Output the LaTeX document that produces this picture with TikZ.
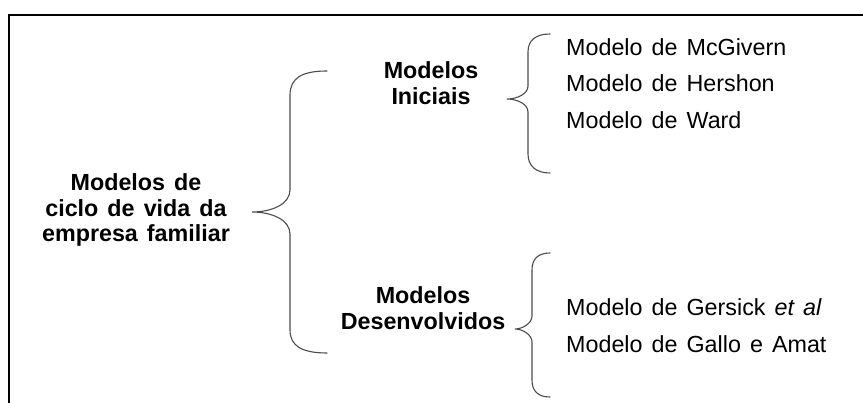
\documentclass[tikz,border=0pt]{standalone}
\usepackage{fontspec}
\setmainfont[WordSpace=1.4]{Liberation Sans}
\begin{document}
\begin{tikzpicture}[x=1pt,y=-1pt,
  frameline/.style={line width=2pt,black},
  bracepath/.style={line width=1.1pt,black!70,line cap=round},
  headtext/.style={font=\bfseries\fontsize{23.3}{25.4}\selectfont,align=center,inner sep=0pt},
  itemtext/.style={font=\fontsize{23.3}{28}\selectfont,anchor=base west,inner sep=0pt}]
\useasboundingbox (0,0) rectangle (863,403);

% open frame: top and left edges
\coordinate (ftl) at (9,15);
\coordinate (ftr) at (863,15);
\coordinate (fbl) at (9,403);
\draw[frameline] (ftr) -- (ftl) -- (fbl);

% headings
\node[headtext] (root) at (136,210.3) {Modelos de\\ciclo de vida da\\empresa familiar};
\node[headtext] (ini) at (431,83.2) {Modelos\\Iniciais};
\node[headtext] (dev) at (423,308) {Modelos\\Desenvolvidos};

% list entries
\node[itemtext] (mcg) at (566,56) {Modelo de McGivern};
\node[itemtext] (her) at (566,92) {Modelo de Hershon};
\node[itemtext] (war) at (566,129) {Modelo de Ward};
\node[itemtext] (ger) at (566,316) {Modelo de Gersick \textit{et al}};
\node[itemtext] (gal) at (566,353) {Modelo de Gallo e Amat};

% main brace
\coordinate (b1tip) at (252,212);
\draw[bracepath] (327,71) .. controls (302,71) and (290,78) .. (290,95)
  -- (290,190) .. controls (290,204) and (272,212) .. (b1tip)
  .. controls (272,212) and (290,220) .. (290,234)
  -- (290,330) .. controls (290,346) and (302,353) .. (327,353);

% brace for the early models
\coordinate (b2tip) at (507,99);
\draw[bracepath] (550,34) .. controls (536,34) and (528,40) .. (528,52)
  -- (528,86) .. controls (528,94) and (517,99) .. (b2tip)
  .. controls (517,99) and (528,104) .. (528,112)
  -- (528,154) .. controls (528,166) and (536,173) .. (550,173);

% brace for the developed models
\coordinate (b3tip) at (515,329);
\draw[bracepath] (550,253) .. controls (538,253) and (532,259) .. (532,270)
  -- (532,316) .. controls (532,323) and (523,329) .. (b3tip)
  .. controls (523,329) and (532,335) .. (532,342)
  -- (532,380) .. controls (532,391) and (538,397) .. (550,397);
\end{tikzpicture}
\end{document}
